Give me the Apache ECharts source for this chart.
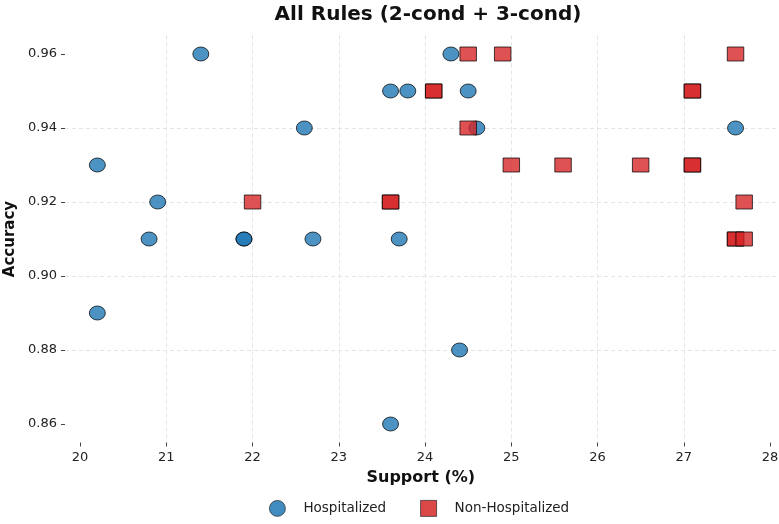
<!DOCTYPE html>
<html>
<head>
<meta charset="utf-8">
<script src="https://cdn.jsdelivr.net/npm/echarts@6/dist/echarts.min.js"></script>
<style>
html,body{margin:0;padding:0;background:#fff;}
#chart{width:779px;height:524px;}
</style>
</head>
<body>
<div id="chart"></div>
<script>
// Data
var hospSupport  = [20.2, 21.4, 20.9, 20.8, 21.9, 21.9, 22.7, 23.7, 22.6, 23.6, 23.8, 24.3, 24.5, 24.6, 20.2, 24.4, 23.6, 27.6];
var hospAccuracy = [0.93, 0.96, 0.92, 0.91, 0.91, 0.91, 0.91, 0.91, 0.94, 0.95, 0.95, 0.96, 0.95, 0.94, 0.89, 0.88, 0.86, 0.94];

var nonSupport  = [24.5, 24.9, 27.6, 24.1, 24.1, 27.1, 27.1, 24.5, 25.0, 25.6, 26.5, 27.1, 27.1, 22.0, 23.6, 23.6, 27.7, 27.6, 27.6, 27.7];
var nonAccuracy = [0.96, 0.96, 0.96, 0.95, 0.95, 0.95, 0.95, 0.94, 0.93, 0.93, 0.93, 0.93, 0.93, 0.92, 0.92, 0.92, 0.92, 0.91, 0.91, 0.91];

var xTicks = [20, 21, 22, 23, 24, 25, 26, 27, 28];
var yTicks = [0.86, 0.88, 0.90, 0.92, 0.94, 0.96];

var seriesNames = ['Hospitalized', 'Non-Hospitalized'];

function zip(a, b) { return a.map(function (v, i) { return [v, b[i]]; }); }

var font = 'DejaVu Sans';
var chart = echarts.init(document.getElementById('chart'), null, {renderer: 'canvas'});

var gridLine = {show: true, lineStyle: {color: '#dedede', type: [4, 3], width: 0.8}, showMinLine: false, showMaxLine: false};

chart.setOption({
  animation: false,
  backgroundColor: '#ffffff',
  title: {
    text: 'All Rules (2-cond + 3-cond)',
    left: 423, top: 0, textAlign: 'center',
    textStyle: {fontFamily: font, fontWeight: 'bold', fontSize: 20, color: '#111'}
  },
  legend: {
    left: 264, top: 495,
    itemWidth: 16, itemHeight: 16, itemGap: 34,
    data: [
      {name: seriesNames[0], icon: 'circle'},
      {name: seriesNames[1], icon: 'rect'}
    ],
    itemStyle: {borderWidth: 0.8, borderColor: '#222', opacity: 0.85},
    textStyle: {fontFamily: font, fontSize: 13.5, color: '#222', padding: [0, 0, 0, 13]}
  },
  grid: {left: 65, right: 2.5, top: 35.5, bottom: 81.5, containLabel: false, outerBoundsMode: 'none'},
  xAxis: {
    type: 'value',
    min: 19.825, max: 28.075,
    name: 'Support (%)', nameLocation: 'middle', nameGap: 24,
    nameTextStyle: {fontFamily: font, fontWeight: 'bold', fontSize: 16, color: '#111'},
    axisLine: {show: false},
    axisTick: {show: true, length: 4, lineStyle: {color: '#444'}, customValues: xTicks},
    axisLabel: {fontFamily: font, fontSize: 13, color: '#222', margin: 9, customValues: xTicks},
    splitLine: gridLine
  },
  yAxis: {
    type: 'value',
    min: 0.855, max: 0.965,
    name: 'Accuracy', nameLocation: 'middle', nameGap: 40,
    nameTextStyle: {fontFamily: font, fontWeight: 'bold', fontSize: 15, color: '#111'},
    axisLine: {show: false},
    axisTick: {show: true, length: 4, lineStyle: {color: '#444'}, customValues: yTicks},
    axisLabel: {fontFamily: font, fontSize: 13, color: '#222', margin: 8, customValues: yTicks,
      formatter: function (v) { return v.toFixed(2); }},
    splitLine: gridLine
  },
  series: [
    {
      name: seriesNames[0], type: 'scatter', symbol: 'circle', symbolSize: [16, 14],
      data: zip(hospSupport, hospAccuracy),
      itemStyle: {color: '#1f77b4', borderColor: '#000', borderWidth: 0.9, opacity: 0.8},
      z: 2
    },
    {
      name: seriesNames[1], type: 'scatter', symbol: 'rect', symbolSize: [16.5, 14],
      data: zip(nonSupport, nonAccuracy),
      itemStyle: {color: '#d62728', borderColor: '#000', borderWidth: 0.9, opacity: 0.8},
      z: 3
    }
  ]
});
</script>
</body>
</html>
